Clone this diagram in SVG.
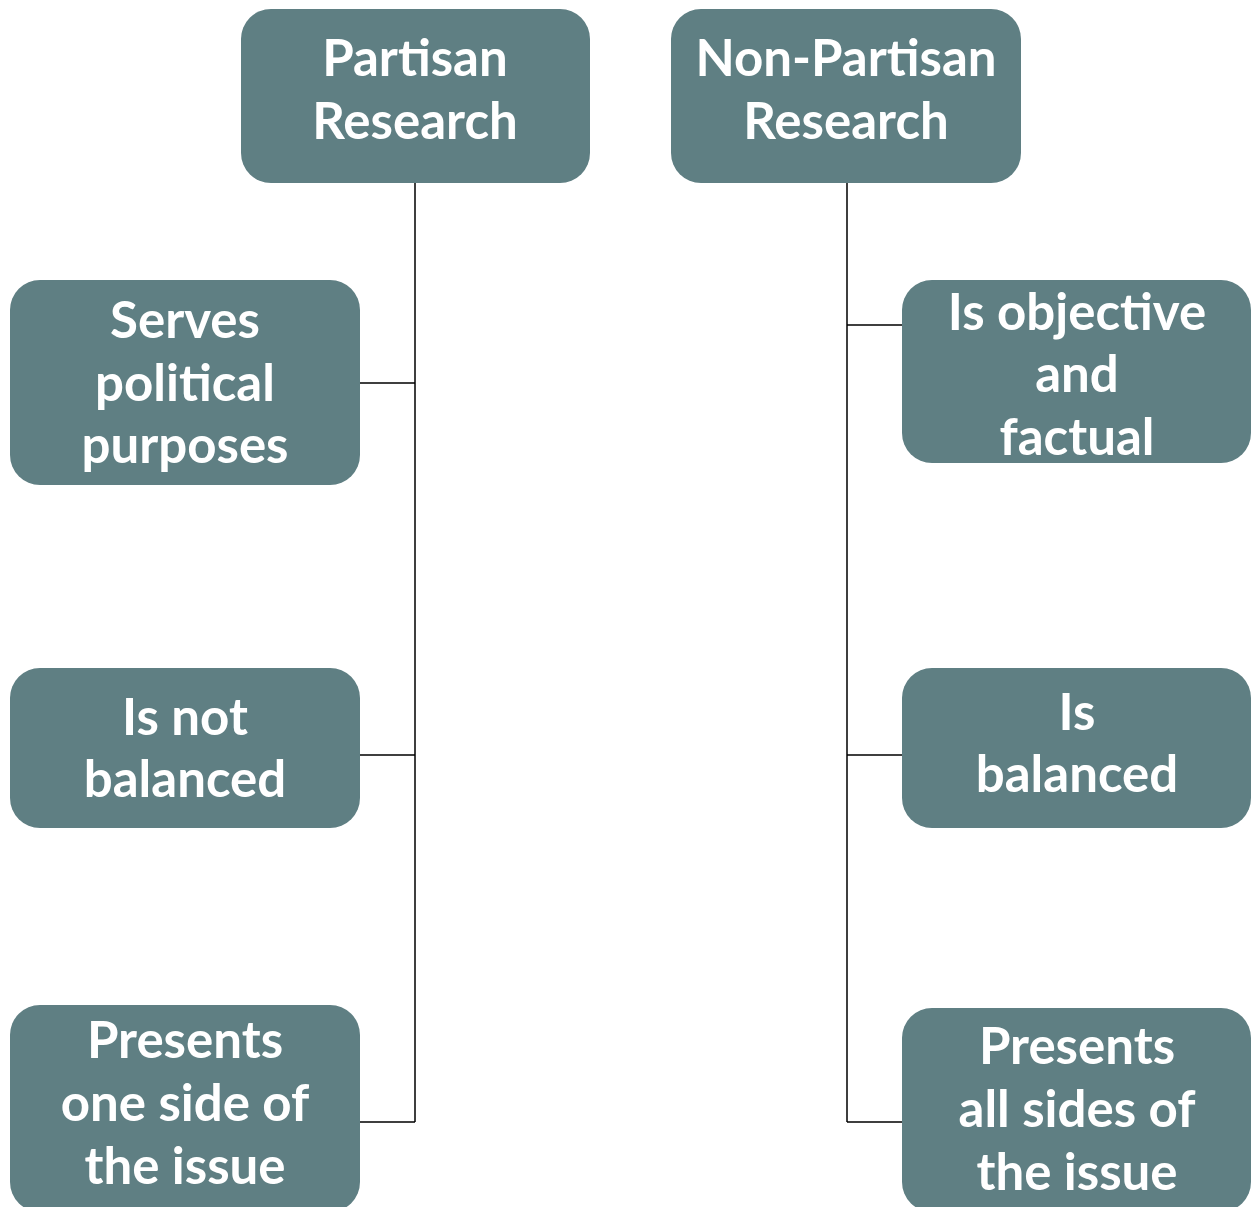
<svg xmlns="http://www.w3.org/2000/svg" width="1253" height="1207" viewBox="0 0 1253 1207">
<style>
.box{fill:#5f7f83;}
.t{font-family:Lato,"Open Sans",sans-serif;font-weight:700;font-size:51px;fill:#ffffff;text-anchor:middle;}
.c{stroke:#000;stroke-width:1.5;fill:none;}
</style>
<rect width="1253" height="1207" fill="#fff"/>
<g id="connectors">
<path class="c" d="M415 183V1122M360 383H415M360 755H415M360 1122H415"/>
<path class="c" d="M847 183V1122M847 325H902M847 755H902M847 1122H902"/>
</g>
<g id="partisan"><rect class="box" x="241" y="9" width="349" height="174" rx="30"/><text class="t"><tspan x="415" y="76">Partisan</tspan><tspan x="415" y="139">Research</tspan></text></g>
<g id="nonpartisan"><rect class="box" x="671" y="9" width="350" height="174" rx="30"/><text class="t"><tspan x="846" y="76">Non-Partisan</tspan><tspan x="846" y="139">Research</tspan></text></g>
<g id="serves"><rect class="box" x="10" y="280" width="350" height="205" rx="30"/><text class="t"><tspan x="185" y="338">Serves</tspan><tspan x="185" y="401">political</tspan><tspan x="185" y="463">purposes</tspan></text></g>
<g id="notbalanced"><rect class="box" x="10" y="668" width="350" height="160" rx="30"/><text class="t"><tspan x="185" y="735">Is not</tspan><tspan x="185" y="797">balanced</tspan></text></g>
<g id="oneside"><rect class="box" x="10" y="1005" width="350" height="207" rx="30"/><text class="t"><tspan x="185" y="1058">Presents</tspan><tspan x="185" y="1121">one side of</tspan><tspan x="185" y="1184">the issue</tspan></text></g>
<g id="objective"><rect class="box" x="902" y="280" width="349" height="183" rx="30"/><text class="t"><tspan x="1077" y="330">Is objective</tspan><tspan x="1077" y="392">and</tspan><tspan x="1077" y="455">factual</tspan></text></g>
<g id="balanced"><rect class="box" x="902" y="668" width="349" height="160" rx="30"/><text class="t"><tspan x="1077" y="730">Is</tspan><tspan x="1077" y="792">balanced</tspan></text></g>
<g id="allsides"><rect class="box" x="902" y="1008" width="349" height="204" rx="30"/><text class="t"><tspan x="1077" y="1064">Presents</tspan><tspan x="1077" y="1127">all sides of</tspan><tspan x="1077" y="1190">the issue</tspan></text></g>
</svg>
